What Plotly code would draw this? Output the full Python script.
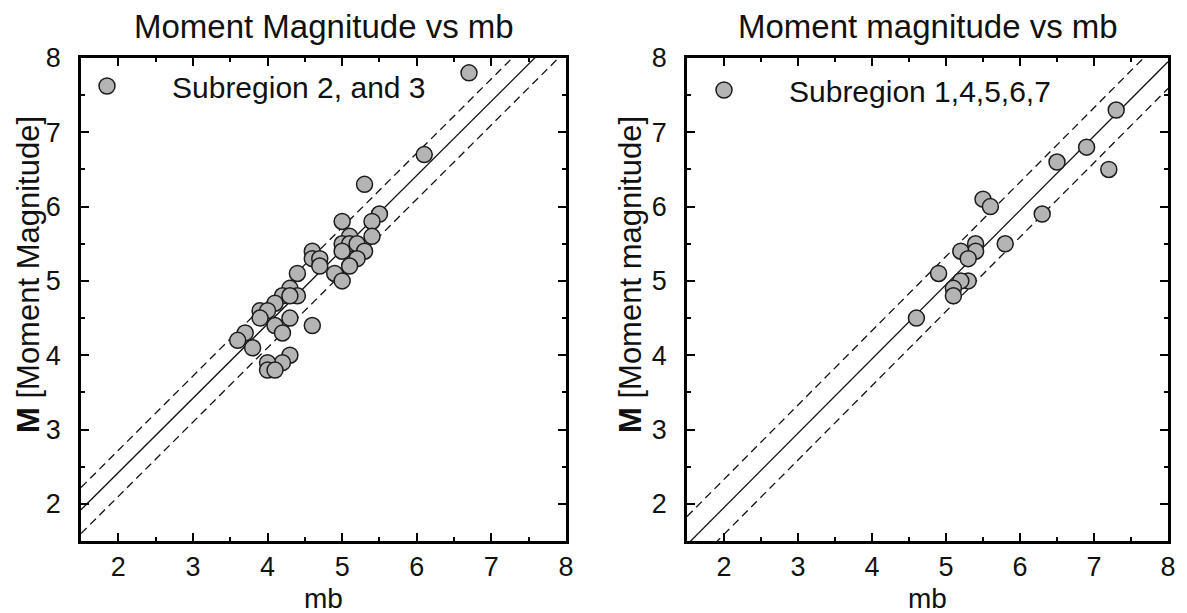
import plotly.graph_objects as go

# ---------------- data ----------------
left_mb = [6.7, 6.1, 5.3, 5.5, 5.4, 5.0, 5.4, 5.1, 5.0, 5.1, 5.2, 5.3, 5.0, 5.2, 5.1,
           4.9, 5.0, 4.6, 4.6, 4.7, 4.7, 4.4, 4.3, 4.4, 4.2, 4.3, 4.1, 3.9, 4.0, 3.9,
           4.3, 4.1, 4.2, 4.6, 3.7, 3.6, 3.8, 4.3, 4.2, 4.0, 4.0, 4.1]
left_mw = [7.8, 6.7, 6.3, 5.9, 5.8, 5.8, 5.6, 5.6, 5.5, 5.5, 5.5, 5.4, 5.4, 5.3, 5.2,
           5.1, 5.0, 5.4, 5.3, 5.3, 5.2, 5.1, 4.9, 4.8, 4.8, 4.8, 4.7, 4.6, 4.6, 4.5,
           4.5, 4.4, 4.3, 4.4, 4.3, 4.2, 4.1, 4.0, 3.9, 3.9, 3.8, 3.8]

right_mb = [7.3, 6.9, 6.5, 7.2, 5.5, 5.6, 6.3, 5.8, 5.4, 5.4, 5.2, 5.3, 4.9, 5.3, 5.2,
            5.1, 5.1, 4.6]
right_mw = [7.3, 6.8, 6.6, 6.5, 6.1, 6.0, 5.9, 5.5, 5.5, 5.4, 5.4, 5.3, 5.1, 5.0, 5.0,
            4.9, 4.8, 4.5]

# regression line (slope 1): intercept and offsets of the dashed band lines
left_fit = {"intercept": 0.42, "upper": 0.30, "lower": -0.32}
right_fit = {"intercept": -0.05, "upper": 0.38, "lower": -0.36}
line_mb = [1.5, 8.0]

tick_vals = [2, 3, 4, 5, 6, 7, 8]
tick_text = ["2", "3", "4", "5", "6", "7", "8"]

left_title = "Moment Magnitude vs mb"
right_title = "Moment magnitude vs mb"
left_legend = "Subregion 2, and 3"
right_legend = "Subregion 1,4,5,6,7"
left_ylabel = "<b>M</b> [Moment Magnitude]"
right_ylabel = "<b>M</b> [Moment magnitude]"
x_label = "mb"

# ---------------- figure ----------------
W, H = 1187, 613
FONT = "Liberation Sans, Arial, Helvetica, sans-serif"
INK = "#111111"
FILL = "#b4b4b4"

fig = go.Figure()

marker = dict(size=16, color=FILL, line=dict(color="#1c1c1c", width=1.5))


def add_panel(mb, mw, fit, xa, ya, name, legend):
    for off, dash in [(fit["upper"], "8px,5px"), (0.0, "solid"), (fit["lower"], "8px,5px")]:
        fig.add_trace(go.Scatter(
            x=line_mb, y=[v + fit["intercept"] + off for v in line_mb],
            mode="lines", line=dict(color=INK, width=1.3, dash=dash),
            xaxis=xa, yaxis=ya, showlegend=False, hoverinfo="skip"))
    fig.add_trace(go.Scatter(
        x=mb, y=mw, mode="markers", marker=marker, name=name,
        xaxis=xa, yaxis=ya, legend=legend, cliponaxis=True))


add_panel(left_mb, left_mw, left_fit, "x", "y", left_legend, "legend")
add_panel(right_mb, right_mw, right_fit, "x2", "y2", right_legend, "legend2")


def px_x(p):
    return p / W


def px_y(p):
    return (H - p) / H


axis_common = dict(
    range=[1.5, 8], showgrid=False, zeroline=False,
    showline=True, linecolor="black", linewidth=2.6, mirror="ticks",
    ticks="inside", ticklen=8, tickwidth=2, tickcolor="black",
    tickvals=tick_vals, ticktext=tick_text,
    tickfont=dict(family=FONT, size=27, color=INK),
    minor=dict(dtick=0.5, tick0=1.5, ticks="inside", ticklen=4, tickwidth=2, tickcolor="black"),
    automargin=False, fixedrange=True,
)

y_dom = [px_y(541), px_y(58)]
fig.update_layout(
    width=W, height=H,
    margin=dict(l=0, r=0, t=0, b=0),
    paper_bgcolor="white", plot_bgcolor="white",
    font=dict(family=FONT, color=INK),
    xaxis=dict(domain=[px_x(81), px_x(566)], anchor="y", **axis_common),
    yaxis=dict(domain=y_dom, anchor="x", ticklabelstandoff=12, **axis_common),
    xaxis2=dict(domain=[px_x(687), px_x(1168)], anchor="y2", **axis_common),
    yaxis2=dict(domain=y_dom, anchor="x2", ticklabelstandoff=12, **axis_common),
    legend=dict(x=px_x(42), y=px_y(60), xanchor="left", yanchor="top",
                bgcolor="rgba(0,0,0,0)", borderwidth=0, itemwidth=120,
                font=dict(family=FONT, size=30, color=INK)),
    legend2=dict(x=px_x(659), y=px_y(64), xanchor="left", yanchor="top",
                 bgcolor="rgba(0,0,0,0)", borderwidth=0, itemwidth=120,
                 font=dict(family=FONT, size=30, color=INK)),
    showlegend=True,
)

annots = [
    dict(text=left_title, x=px_x(323.5), y=px_y(26), size=33, angle=0),
    dict(text=right_title, x=px_x(927.5), y=px_y(26), size=33, angle=0),
    dict(text=x_label, x=px_x(323.5), y=px_y(598), size=28, angle=0),
    dict(text=x_label, x=px_x(927.5), y=px_y(598), size=28, angle=0),
    dict(text=left_ylabel, x=px_x(28), y=px_y(275), size=31, angle=-90),
    dict(text=right_ylabel, x=px_x(630), y=px_y(275), size=31, angle=-90),
]
for a in annots:
    fig.add_annotation(text=a["text"], x=a["x"], y=a["y"], xref="paper", yref="paper",
                       xanchor="center", yanchor="middle", showarrow=False,
                       textangle=a["angle"], font=dict(family=FONT, size=a["size"], color=INK))

fig.write_html("out.html")
